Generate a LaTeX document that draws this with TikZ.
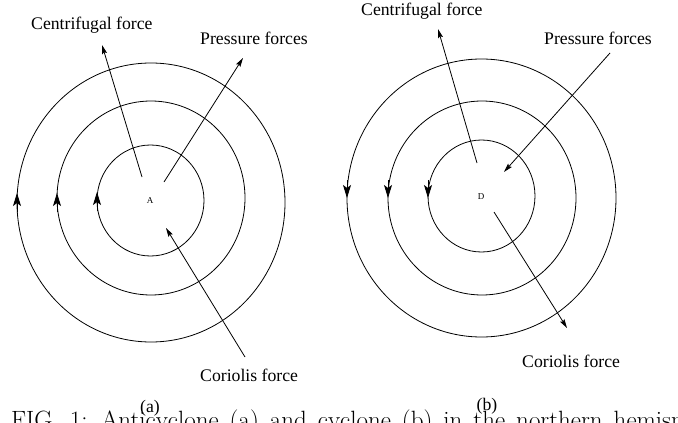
\documentclass[tikz,border=0pt]{standalone}
\usepackage{fontspec}
\newfontfamily\timesfont{Liberation Serif}
\usetikzlibrary{arrows.meta}
\begin{document}
\begin{tikzpicture}[x=1pt,y=-1pt,
  lbl/.style={font=\timesfont\fontsize{17.7}{20}\selectfont, inner sep=0pt, anchor=base west},
  lblc/.style={font=\timesfont\fontsize{17.7}{20}\selectfont, inner sep=0pt, anchor=base},
  ctr/.style={font=\timesfont\fontsize{9}{11}\selectfont, inner sep=0pt},
  force/.style={line width=0.8pt, -{Stealth[length=9pt,width=5pt,inset=1.5pt]}},
  ring/.style={line width=0.8pt},
  flow/.style={line width=0.8pt, -{Stealth[length=13pt,width=8pt,inset=3pt]}}]
\useasboundingbox (0,0) rectangle (678,423);
\fill[white] (0,0) rectangle (678,423);
\clip (0,0) rectangle (678,423);

% ---------- (a) anticyclone ----------
\draw[ring] (151,202.5) ellipse [x radius=134pt, y radius=139.5pt];
\draw[ring] (151,198) ellipse [x radius=94pt, y radius=97pt];
\draw[ring] (150.5,200.5) ellipse [x radius=53.5pt, y radius=55.5pt];
\coordinate (fa1s) at (17,212);  \coordinate (fa1e) at (17,193);
\coordinate (fa2s) at (57,212);  \coordinate (fa2e) at (57,193);
\coordinate (fa3s) at (97,211);  \coordinate (fa3e) at (97,192);
\draw[flow] (fa1s) -- (fa1e);
\draw[flow] (fa2s) -- (fa2e);
\draw[flow] (fa3s) -- (fa3e);
\node[ctr] (A) at (150,201) {A};

\node[lbl] (cfa) at (31,30) {Centrifugal force};
\node[lbl] (pra) at (200,44) {Pressure forces};
\node[lbl] (coa) at (200,381) {Coriolis force};
\node[lblc] (la) at (150,412) {(a)};

\coordinate (cfa0) at (142,177); \coordinate (cfa1) at (102,45);
\coordinate (pra0) at (164,182); \coordinate (pra1) at (243,58);
\coordinate (coa0) at (245,357); \coordinate (coa1) at (166,228);
\draw[force] (cfa0) -- (cfa1);
\draw[force] (pra0) -- (pra1);
\draw[force] (coa0) -- (coa1);

% ---------- (b) cyclone ----------
\draw[ring] (481.5,198) ellipse [x radius=134.5pt, y radius=139pt];
\draw[ring] (482,198) ellipse [x radius=94pt, y radius=97pt];
\draw[ring] (481.5,196) ellipse [x radius=53.5pt, y radius=56pt];
\coordinate (fb1s) at (347,180);  \coordinate (fb1e) at (347,198);
\coordinate (fb2s) at (388,180);  \coordinate (fb2e) at (388,198);
\coordinate (fb3s) at (428,180);  \coordinate (fb3e) at (428,198);
\draw[flow] (fb1s) -- (fb1e);
\draw[flow] (fb2s) -- (fb2e);
\draw[flow] (fb3s) -- (fb3e);
\node[ctr] (D) at (481,197) {D};

\node[lbl] (cfb) at (361,16) {Centrifugal force};
\node[lbl] (prb) at (544,44) {Pressure forces};
\node[lbl] (cob) at (522,367) {Coriolis force};
\node[lblc] (lb) at (487,410) {(b)};

\coordinate (cfb0) at (477,163); \coordinate (cfb1) at (438,29);
\coordinate (prb0) at (610,53);  \coordinate (prb1) at (504,172);
\coordinate (cob0) at (494,212); \coordinate (cob1) at (567,328);
\draw[force] (cfb0) -- (cfb1);
\draw[force] (prb0) -- (prb1);
\draw[force] (cob0) -- (cob1);

% ---------- clipped caption line ----------
\node[font=\fontsize{25}{30}\selectfont, inner sep=0pt, anchor=base west] (cap) at (11,428)
  {\spaceskip=11pt FIG. 1: Anticyclone (a) and cyclone (b) in the northern hemisphere.};
\end{tikzpicture}
\end{document}
